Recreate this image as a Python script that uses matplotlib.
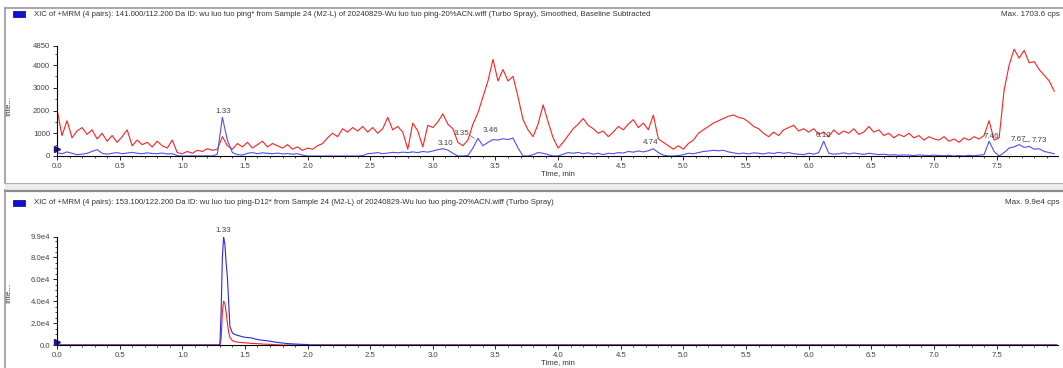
import numpy as np
import matplotlib
matplotlib.use('Agg')
from matplotlib import pyplot as plt
from matplotlib.lines import Line2D
from matplotlib.patches import Rectangle
from matplotlib.ticker import MultipleLocator, FixedLocator, FormatStrFormatter

plt.rcParams['font.family'] = ['Liberation Sans', 'DejaVu Sans']

# --- top XIC: 141.000/112.200 (sampled every 0.04 min) ---
top_time = np.round(np.arange(0, 8.0, 0.04), 2)
top_red = [
    2050, 900, 1550, 800, 1100, 1250, 950, 1150, 750, 1000, 650, 900, 600, 850, 1150, 450, 700, 500, 600, 400, 650, 450, 350, 700, 150,
    100, 200, 120, 250, 200, 320, 250, 300, 850, 450, 300, 550, 400, 600, 350, 500, 650, 400, 550, 450, 350, 500, 300, 400, 250,
    350, 300, 450, 550, 800, 1000, 850, 1200, 1050, 1250, 1100, 1300, 1050, 1250, 1000, 1200, 1700, 1150, 1300, 1050, 300, 1450, 1100, 400, 1350,
    1250, 1500, 1850, 1400, 1200, 600, 450, 700, 1400, 1900, 2600, 3300, 4250, 3300, 3800, 3300, 3500, 2600, 1600, 1150, 850, 1400, 2250, 1500, 800,
    350, 600, 900, 1200, 1400, 1650, 1350, 1200, 1000, 1100, 850, 1050, 1300, 1150, 1400, 1600, 1250, 1450, 1150, 1800, 750, 600, 450, 300, 450,
    300, 550, 700, 1000, 1150, 1300, 1450, 1550, 1650, 1750, 1800, 1700, 1650, 1500, 1300, 1200, 1000, 850, 1050, 900, 1150, 1250, 1350, 1100, 1200,
    1050, 1200, 950, 1050, 850, 1150, 950, 1100, 1000, 1200, 950, 1050, 1300, 1050, 1150, 900, 1000, 800, 950, 850, 1000, 800, 900, 700, 850,
    750, 700, 850, 650, 750, 600, 800, 700, 850, 750, 900, 1550, 700, 800, 2900, 4000, 4700, 4300, 4650, 4100, 4150, 3800, 3550, 3300, 2850,
]
top_blue = [
    150, 100, 180, 120, 60, 80, 120, 200, 280, 120, 80, 120, 150, 100, 130, 160, 120, 100, 140, 110, 100, 130, 90, 100, 20,
    0, 0, 10, 0, 0, 10, 0, 80, 1700, 700, 150, 60, 40, 120, 150, 100, 140, 120, 100, 130, 90, 110, 80, 100, 40,
    0, 0, 0, 0, 0, 0, 0, 0, 0, 0, 0, 20, 100, 120, 150, 100, 130, 160, 140, 170, 150, 180, 150, 200, 170,
    220, 280, 320, 260, 120, 0, 0, 20, 350, 780, 450, 600, 720, 700, 760, 720, 790, 350, 0, 0, 60, 150, 120, 60, 0,
    0, 80, 150, 120, 160, 100, 140, 80, 120, 60, 120, 100, 150, 130, 200, 170, 220, 180, 230, 320, 150, 40, 0, 0, 20,
    60, 120, 100, 150, 200, 220, 250, 230, 250, 180, 140, 100, 130, 90, 140, 120, 90, 140, 110, 160, 120, 150, 100, 80, 60,
    120, 80, 150, 650, 120, 80, 100, 140, 90, 130, 100, 70, 120, 90, 60, 80, 40, 60, 30, 50, 40, 20, 50, 30, 20,
    40, 20, 10, 30, 0, 20, 0, 30, 10, 40, 60, 650, 200, 0, 150, 350, 400, 500, 380, 420, 300, 320, 200, 150, 100,
]
top_peaks = [1.33, 3.10, 3.35, 3.46, 4.74, 6.12, 7.46, 7.67, 7.73]
top_peak_x = [1.33, 3.10, 3.23, 3.46, 4.74, 6.12, 7.46, 7.67, 7.84]
top_peak_y = [1950, 560, 970, 1100, 600, 880, 870, 730, 660]

# --- bottom XIC: 153.100/122.200 (D12) ---
bot_time = [0.0, 1.28, 1.30, 1.31, 1.32, 1.33, 1.34, 1.35, 1.36, 1.37, 1.38, 1.40, 1.42, 1.45, 1.50,
            1.55, 1.60, 1.65, 1.70, 1.75, 1.80, 1.85, 1.90, 1.95, 2.00, 2.02, 7.98]
bot_blue = [0, 0, 0, 30000, 80000, 99000, 92000, 75000, 62000, 40000, 17000, 11000, 9500, 8500, 7000,
            6500, 5000, 4200, 3500, 2500, 1800, 1200, 900, 600, 400, 0, 0]
bot_red = [0, 0, 0, 5000, 30000, 40000, 38000, 30000, 20000, 12000, 7000, 4000, 3000, 2500, 2000,
           1500, 1200, 800, 600, 200, 0, 0, 0, 0, 0, 0, 0]

title_top = ('XIC of +MRM (4 pairs): 141.000/112.200 Da ID: wu luo tuo ping* from Sample 24 (M2-L) of '
             '20240829-Wu luo tuo ping-20%ACN.wiff (Turbo Spray), Smoothed, Baseline Subtracted')
title_bot = ('XIC of +MRM (4 pairs): 153.100/122.200 Da ID: wu luo tuo ping-D12* from Sample 24 (M2-L) of '
             '20240829-Wu luo tuo ping-20%ACN.wiff (Turbo Spray)')

W, H = 1063, 368
fig = plt.figure(figsize=(W / 100, H / 100), dpi=100)
fig.patch.set_facecolor('white')


def fx(px):
    return px / W


def fy(py):
    return 1 - py / H


# panel frames
grey = '#9a9a9a'
fig.add_artist(Line2D([fx(5), 1], [fy(8), fy(8)], color=grey, lw=1.2))
fig.add_artist(Line2D([fx(5), fx(5)], [fy(8), fy(183)], color=grey, lw=1.2))
fig.add_artist(Rectangle((fx(5), fy(190)), 1 - fx(5), fy(183) - fy(190), facecolor='#ececec',
                         edgecolor='none'))
fig.add_artist(Line2D([fx(5), 1], [fy(183), fy(183)], color='#b0b0b0', lw=0.8))
fig.add_artist(Line2D([fx(5), 1], [fy(190.5), fy(190.5)], color='#8a8a8a', lw=1.6))
fig.add_artist(Line2D([fx(5), fx(5)], [fy(190), 0], color=grey, lw=1.2))

# titles
for ty, txt, mx in [(14, title_top, 'Max. 1703.6 cps'), (203, title_bot, 'Max. 9.9e4 cps')]:
    fig.add_artist(Rectangle((fx(13), fy(ty + 3)), fx(12), fy(ty - 3) - fy(ty + 3),
                             facecolor='#1010d0', edgecolor='#000080', lw=0.5))
    fig.text(fx(34), fy(ty), txt, fontsize=5.6, color='#333333', va='center', ha='left')
    fig.text(fx(1060), fy(ty), mx, fontsize=5.8, color='#333333', va='center', ha='right')

ax1 = fig.add_axes([fx(57), fy(156), fx(1058) - fx(57), fy(45.7) - fy(156)])
ax2 = fig.add_axes([fx(57), fy(345), fx(1058) - fx(57), fy(236.7) - fy(345)])

ax1.plot(top_time, top_red, color='#ff2020', lw=0.8)
ax1.plot(top_time, top_blue, color='#5050f2', lw=0.8)
ax1.set_ylim(0, 4850)
ax1.yaxis.set_major_locator(FixedLocator([0, 1000, 2000, 3000, 4000, 4850]))
ax1.yaxis.set_minor_locator(MultipleLocator(500))
ax1.set_yticklabels(['0', '1000', '2000', '3000', '4000', '4850'])
for lab, px, py in zip(top_peaks, top_peak_x, top_peak_y):
    ax1.text(px, py, '%.2f' % lab, fontsize=5.8, color='#444444', ha='center', va='center')
ax1.plot([3.29, 3.33], [930, 780], color='#555555', lw=0.5)
ax1.plot([7.71, 7.76], [640, 640], color='#555555', lw=0.5)
ax1.plot([0], [300], marker='>', color='#1a1a80', ms=4, clip_on=False)

ax2.plot(bot_time, bot_red, color='#ff2020', lw=0.8)
ax2.plot(bot_time, bot_blue, color='#2a2ae0', lw=0.8)
ax2.set_ylim(0, 99000)
ax2.yaxis.set_major_locator(FixedLocator([0, 20000, 40000, 60000, 80000, 99000]))
ax2.yaxis.set_minor_locator(MultipleLocator(5000))
ax2.set_yticklabels(['0.0', '2.0e4', '4.0e4', '6.0e4', '8.0e4', '9.9e4'])
ax2.text(1.33, 104500, '1.33', fontsize=5.8, color='#444444', ha='center', va='center', clip_on=False)
ax2.plot([0], [3000], marker='>', color='#1a1a80', ms=4, clip_on=False)

for ax in (ax1, ax2):
    ax.set_xlim(0, 7.99)
    ax.xaxis.set_major_locator(MultipleLocator(0.5))
    ax.xaxis.set_minor_locator(MultipleLocator(0.1))
    ax.xaxis.set_major_formatter(FormatStrFormatter('%.1f'))
    for s in ('top', 'right'):
        ax.spines[s].set_visible(False)
    ax.spines['left'].set_linewidth(0.8)
    ax.spines['bottom'].set_linewidth(0.8)
    ax.tick_params(which='major', length=3, width=0.6, labelsize=5.6, labelcolor='#444444', pad=2)
    ax.tick_params(which='minor', length=1.5, width=0.5)
    ax.set_xlabel('Time, min', fontsize=5.6, color='#333333', labelpad=0)
    ax.set_ylabel('Inte...', fontsize=5.8, color='#333333')

ax1.yaxis.set_label_coords(-(57 - 12) / 1001, 0.45)
ax2.yaxis.set_label_coords(-(57 - 12) / 1001, 0.48)

fig.savefig('out.png', dpi=100)
